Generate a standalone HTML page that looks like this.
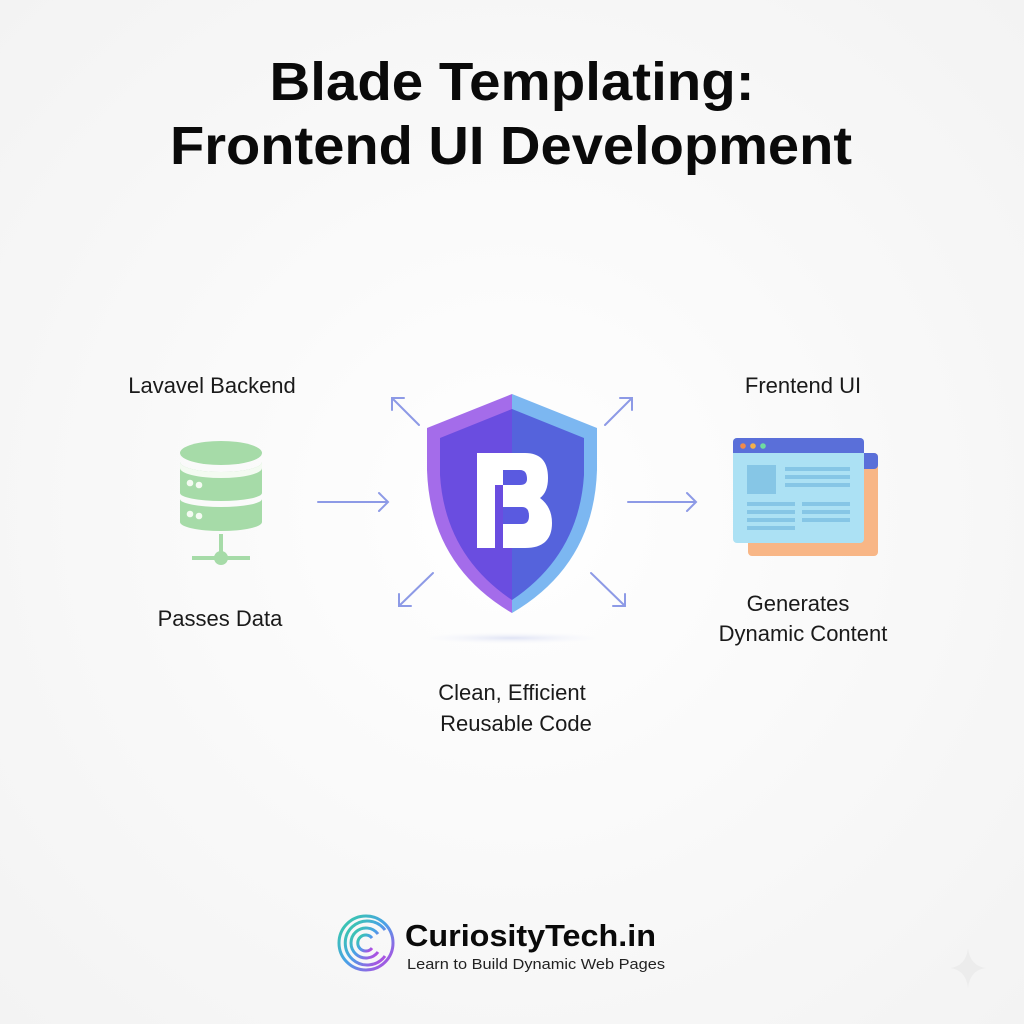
<!DOCTYPE html>
<html><head><meta charset="utf-8"><style>
html,body{margin:0;padding:0;background:#fafafa;}
svg{display:block;}
text{font-family:"Liberation Sans",sans-serif;}
</style></head><body>
<svg width="1024" height="1024" viewBox="0 0 1024 1024" xmlns="http://www.w3.org/2000/svg">
<defs>
<radialGradient id="bg" cx="50%" cy="50%" r="70%"><stop offset="0" stop-color="#ffffff"/><stop offset="1" stop-color="#f3f3f3"/></radialGradient>
<linearGradient id="lg" x1="0" y1="0" x2="1" y2="1"><stop offset="0" stop-color="#35d0a0"/><stop offset="0.5" stop-color="#4aa0e8"/><stop offset="1" stop-color="#c040e0"/></linearGradient>
<radialGradient id="sh" cx="50%" cy="50%" r="50%"><stop offset="0" stop-color="#dfe3f5"/><stop offset="1" stop-color="#f6f7fb" stop-opacity="0"/></radialGradient>
</defs>
<rect width="1024" height="1024" fill="url(#bg)"/>
<text x="512" y="100" text-anchor="middle" font-size="54" font-weight="bold" fill="#0a0a0a" textLength="485" lengthAdjust="spacingAndGlyphs">Blade Templating:</text>
<text x="511" y="164" text-anchor="middle" font-size="54" font-weight="bold" fill="#0a0a0a" textLength="682" lengthAdjust="spacingAndGlyphs">Frontend UI Development</text>

<g font-size="22" fill="#1a1a1a" text-anchor="middle">
<text x="212" y="393">Lavavel Backend</text>
<text x="220" y="626">Passes Data</text>
<text x="803" y="393">Frentend UI</text>
<text x="798" y="611">Generates</text>
<text x="803" y="641">Dynamic Content</text>
<text x="512" y="700">Clean, Efficient</text>
<text x="516" y="731">Reusable Code</text>
</g>

<!-- database -->
<g fill="#a6dba8">
<ellipse cx="221" cy="453" rx="41" ry="12"/>
<path d="M180,462 A41,10 0 0 0 262,462 V493 A41,8 0 0 1 180,493 Z"/>
<path d="M180,499 A41,8 0 0 0 262,499 V522 A41,9 0 0 1 180,522 Z"/>
<path d="M180,462 A41,10 0 0 0 262,462 V468 A41,10 0 0 1 180,468 Z" fill="#f4fbf2"/>
<rect x="219" y="534" width="4" height="23"/>
<rect x="192" y="556" width="58" height="4"/>
<circle cx="221" cy="558" r="7"/>
</g>
<g fill="#f4fbf2"><circle cx="190" cy="483" r="3.3"/><circle cx="199" cy="485" r="3.3"/><circle cx="190" cy="514" r="3.3"/><circle cx="199" cy="516" r="3.3"/></g>

<!-- browser -->
<rect x="748" y="453" width="130" height="103" rx="4" fill="#f8b686"/>
<rect x="748" y="453" width="130" height="16" rx="4" fill="#5a6fd9"/>
<rect x="733" y="438" width="131" height="105" rx="4" fill="#ace1f4"/>
<path d="M737,438 H860 a4,4 0 0 1 4,4 V453 H733 V442 a4,4 0 0 1 4,-4Z" fill="#5a6fd9"/>
<circle cx="743" cy="446" r="2.8" fill="#f08a4a"/><circle cx="753" cy="446" r="2.8" fill="#f3b04a"/><circle cx="763" cy="446" r="2.8" fill="#6fdca0"/>
<g fill="#86c6e6">
<rect x="747" y="465" width="29" height="29"/>
<rect x="785" y="467" width="65" height="4"/><rect x="785" y="475" width="65" height="4"/><rect x="785" y="483" width="65" height="4"/>
<rect x="747" y="502" width="48" height="4"/><rect x="747" y="510" width="48" height="4"/><rect x="747" y="518" width="48" height="4"/><rect x="747" y="526" width="48" height="4"/>
<rect x="802" y="502" width="48" height="4"/><rect x="802" y="510" width="48" height="4"/><rect x="802" y="518" width="48" height="4"/>
</g>

<!-- arrows -->
<g stroke="#8d9ae6" stroke-width="2" fill="none" stroke-linecap="round">
<path d="M318,502 H388 M379,493 L388,502 L379,511"/>
<path d="M628,502 H696 M687,493 L696,502 L687,511"/>
<path d="M419,425 L392,398 M392,410 V398 H404"/>
<path d="M605,425 L632,398 M620,398 H632 V410"/>
<path d="M433,573 L399,606 M399,594 V606 H411"/>
<path d="M591,573 L625,606 M613,606 H625 V594"/>
</g>

<!-- shield -->
<ellipse cx="512" cy="638" rx="95" ry="6" fill="url(#sh)"/>
<path d="M512,394 L427,428 V470 Q430,565 512,613 Z" fill="#a46cea"/>
<path d="M512,394 L597,428 V470 Q594,565 512,613 Z" fill="#7cb7f1"/>
<path d="M512,409 L440,438 V475 Q445,555 512,600 Z" fill="#6a4de0"/>
<path d="M512,409 L584,438 V475 Q579,555 512,600 Z" fill="#5563dc"/>
<!-- B -->
<path d="M477,453 H525 Q548,453 548,478 Q548,492 540,498 Q552,507 552,523 Q552,548 525,548 H503 V485 H477 Z" fill="#fff"/>
<rect x="477" y="485" width="18" height="63" fill="#fff"/>
<path d="M503,470 H520 Q527,470 527,479 Q527,485 520,485 H503 Z" fill="#5a5ae0"/>
<path d="M503,507 H522 Q529,507 529,516 Q529,524 522,524 H503 Z" fill="#5a5ae0"/>

<!-- logo -->
<g fill="none" stroke="url(#lg)" stroke-width="3">
<circle cx="366" cy="943" r="27"/>
<path d="M385,930 A22,22 0 1 0 385,956"/>
<path d="M378,934 A15,15 0 1 0 378,952"/>
<path d="M372,938 A8,8 0 1 0 372,948"/>
</g>
<text x="405" y="946" font-size="31" font-weight="bold" fill="#0a0a0a" textLength="251" lengthAdjust="spacingAndGlyphs">CuriosityTech.in</text>
<text x="407" y="969" font-size="15" fill="#222" textLength="258" lengthAdjust="spacingAndGlyphs">Learn to Build Dynamic Web Pages</text>
<path d="M968,948 Q970,966 986,968 Q970,970 968,988 Q966,970 950,968 Q966,966 968,948Z" fill="#ececec"/>
</svg>
</body></html>
